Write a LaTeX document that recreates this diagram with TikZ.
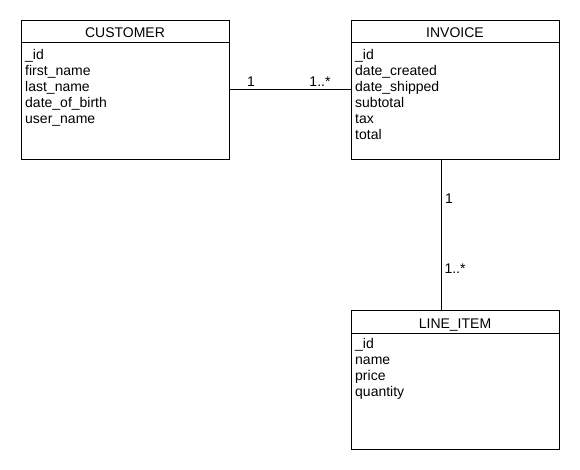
\documentclass[tikz,border=0pt]{standalone}
\usepackage{fontspec}
\setmainfont{Liberation Sans}
\tikzset{
  entity/.style={draw, line width=1pt, rectangle, inner sep=0pt, anchor=north west,
    minimum width=208pt},
  fields/.style={anchor=north west, align=left, inner sep=0pt,
    font=\fontsize{14}{16}\selectfont},
  title/.style={font=\fontsize{14}{16}\selectfont, inner sep=0pt, anchor=base},
  mult/.style={font=\fontsize{14}{16}\selectfont, inner sep=0pt, anchor=base}
}
\begin{document}
\begin{tikzpicture}[x=1pt,y=-1pt]
\fill [white] (0,0) rectangle (580,470);
\useasboundingbox (0,0) rectangle (580,470);

% Boxes
\node [entity, minimum height=139pt] (customer) at (21,20) {};
\node [entity, minimum height=139pt] (invoice) at (351,20) {};
\node [entity, minimum height=139pt] (lineitem) at (351,310) {};

% Header lines
\draw [line width=1pt] (customer.north west) ++(0,23) -- ++(208,0);
\draw [line width=1pt] (invoice.north west) ++(0,23) -- ++(208,0);
\draw [line width=1pt] (lineitem.north west) ++(0,23) -- ++(208,0);

% Titles
\node [title] (customertitle) at (125,38) {CUSTOMER};
\node [title] (invoicetitle) at (455,38) {INVOICE};
\node [title] (lineitemtitle) at (455,328) {LINE\_ITEM};

% Fields
\node [fields] (customerfields) at (25,49) {\_id\\first\_name\\last\_name\\date\_of\_birth\\user\_name};
\node [fields] (invoicefields) at (355,49) {\_id\\date\_created\\date\_shipped\\subtotal\\tax\\total};
\node [fields] (lineitemfields) at (355,338) {\_id\\name\\price\\quantity};

% Connections
\draw [line width=1pt] (customer.east) -- (invoice.west);
\draw [line width=1pt] ([xshift=-14pt]invoice.south) -- ([xshift=-14pt]lineitem.north);

% Multiplicities
\node [mult] (m1) at (251,87) {1};
\node [mult] (m2) at (320,87) {1..*};
\node [mult] (m3) at (449,204) {1};
\node [mult] (m4) at (455,273) {1..*};
\end{tikzpicture}
\end{document}
